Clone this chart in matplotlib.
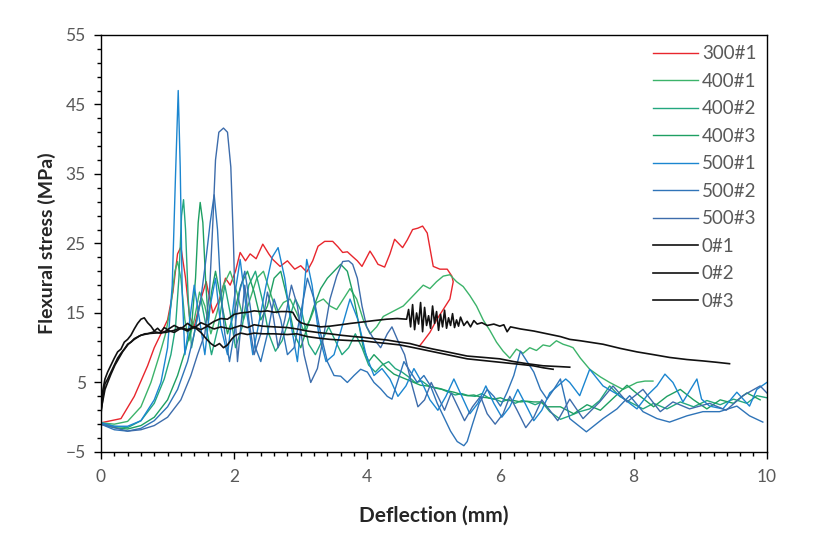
import matplotlib

matplotlib.use("Agg")

import matplotlib.pyplot as plt
from matplotlib.ticker import MultipleLocator

# (deflection mm, flexural stress MPa)
s300_1 = [
    (0, -0.8), (0.3, -0.2), (0.5, 3), (0.7, 7.4), (0.8, 10), (0.9, 12), (1.0, 14), (1.08, 18),
    (1.15, 23.5), (1.2, 24.5), (1.27, 20), (1.33, 14.5), (1.4, 13), (1.5, 17), (1.58, 19.5),
    (1.68, 15), (1.78, 17), (1.87, 20), (1.94, 19), (2.02, 21), (2.09, 23.7), (2.17, 22.5),
    (2.24, 23.5), (2.33, 22.8), (2.43, 24.9), (2.52, 23.5), (2.58, 22.7), (2.69, 21.7),
    (2.8, 22.5), (2.91, 21.3), (3.0, 21.8), (3.09, 20.9), (3.18, 22.5), (3.26, 24.6),
    (3.36, 25.3), (3.48, 25.3), (3.56, 24.5), (3.63, 23.7), (3.7, 23.8), (3.78, 23.1),
    (3.85, 22.5), (3.92, 21.7), (4.04, 23.9), (4.1, 23), (4.16, 22), (4.26, 21.6), (4.34, 23.5),
    (4.41, 25.6), (4.53, 24.4), (4.6, 25.5), (4.68, 27), (4.76, 27.2), (4.83, 27.5), (4.9, 26.5),
    (4.99, 21.7), (5.09, 21.3), (5.2, 21.3), (5.27, 20.3), (5.29, 19.5), (5.24, 17), (5.14, 15.5),
    (5.04, 14), (4.94, 12.2), (4.83, 10.8), (4.78, 10.2),
]
s400_1 = [
    (0, -0.8), (0.2, -1), (0.4, -0.6), (0.6, 1.5), (0.75, 5), (0.88, 9), (0.97, 12), (1.05, 16),
    (1.11, 21), (1.15, 22.4), (1.2, 20), (1.26, 14), (1.32, 11), (1.4, 14), (1.48, 18), (1.56, 16),
    (1.65, 12), (1.74, 15), (1.84, 19), (1.94, 21), (2.04, 18), (2.14, 14), (2.24, 17), (2.34, 20),
    (2.44, 21), (2.54, 18), (2.64, 15), (2.74, 16.5), (2.84, 17), (2.94, 15), (3.04, 12.5),
    (3.14, 14), (3.24, 16.5), (3.34, 17), (3.44, 16), (3.54, 15.5), (3.64, 17), (3.74, 18.5),
    (3.84, 17), (3.94, 14), (4.04, 12), (4.14, 13), (4.24, 14.5), (4.34, 15), (4.44, 15.5),
    (4.54, 16), (4.64, 17), (4.74, 18), (4.84, 19), (4.94, 18.5), (5.04, 19.5), (5.14, 20.3),
    (5.24, 20.5), (5.34, 19.5), (5.44, 18.8), (5.54, 17.5), (5.64, 16), (5.74, 14), (5.84, 12.5),
    (5.94, 10.8), (6.04, 9.5), (6.14, 8.5), (6.24, 9.8), (6.34, 9.2), (6.44, 10), (6.54, 9.6),
    (6.64, 10.4), (6.74, 10.2), (6.84, 11), (6.94, 10.5), (7.04, 10.2), (7.09, 10), (7.2, 8.5),
    (7.34, 6.9), (7.5, 5.8), (7.64, 5), (7.84, 4), (8.05, 5), (8.17, 5.2), (8.29, 5.2),
]
s400_2 = [
    (0, -0.8), (0.2, -1.3), (0.4, -1.5), (0.6, -0.5), (0.8, 2), (0.95, 5.5), (1.05, 9), (1.12, 13),
    (1.17, 20), (1.21, 29), (1.24, 31.3), (1.27, 27), (1.31, 17), (1.36, 10), (1.42, 13), (1.5, 17),
    (1.58, 13), (1.66, 9), (1.76, 13), (1.86, 19), (1.94, 15), (2.02, 10), (2.12, 13), (2.22, 19),
    (2.32, 21), (2.42, 17), (2.52, 12), (2.62, 9.5), (2.72, 11), (2.82, 14), (2.92, 17), (3.02, 15),
    (3.12, 10.5), (3.22, 9), (3.32, 11), (3.42, 13), (3.52, 11), (3.62, 9), (3.72, 10), (3.82, 12),
    (3.92, 10), (4.02, 7.5), (4.12, 6.5), (4.22, 7.5), (4.32, 8), (4.42, 7), (4.52, 6.5), (4.62, 5.8),
    (4.72, 5), (4.82, 5.2), (4.92, 4.5), (5.02, 4.2), (5.12, 4), (5.22, 3.6), (5.32, 3.2), (5.42, 3.4),
    (5.52, 3.1), (5.62, 3), (5.72, 3.4), (5.82, 2.8), (5.92, 2.6), (6.02, 2.2), (6.12, 2.6), (6.22, 2),
    (6.32, 2.4), (6.42, 2.2), (6.52, 1.8), (6.62, 2.2), (6.74, 0.8), (6.9, -0.3), (7.04, 0.2),
    (7.19, 0.8), (7.34, 1.2), (7.49, 2.4), (7.64, 4.5), (7.79, 3), (7.94, 2.2), (8.14, 1.2), (8.3, 2),
    (8.5, 1.2), (8.7, 2.2), (8.9, 1.5), (9.1, 2.4), (9.3, 1.8), (9.5, 2.6), (9.7, 2), (9.85, 3.1),
    (10, 2.8),
]
s400_3 = [
    (0, -1), (0.2, -1.5), (0.4, -1.7), (0.6, -1.2), (0.8, 0), (1.0, 2.5), (1.15, 6), (1.28, 10),
    (1.36, 13), (1.42, 20), (1.46, 28), (1.49, 30.9), (1.53, 28), (1.57, 20), (1.61, 14), (1.66, 18),
    (1.72, 21), (1.8, 17), (1.9, 12), (2.0, 15), (2.1, 19), (2.2, 21), (2.3, 18), (2.4, 14), (2.5, 16),
    (2.6, 20), (2.7, 21), (2.8, 17), (2.9, 12), (3.0, 10), (3.1, 13), (3.2, 16), (3.3, 18.5), (3.4, 20),
    (3.5, 21), (3.6, 22), (3.7, 21), (3.78, 18), (3.86, 14), (3.94, 10), (4.02, 8), (4.1, 9), (4.2, 8),
    (4.3, 7), (4.4, 6.2), (4.5, 5.8), (4.6, 5.4), (4.7, 5), (4.8, 4.6), (4.9, 4.5), (5.0, 4.3),
    (5.1, 4.1), (5.2, 3.8), (5.3, 3.6), (5.4, 3.3), (5.5, 3.1), (5.6, 3.2), (5.7, 2.9), (5.8, 2.8),
    (5.9, 2.6), (6.0, 2.8), (6.1, 2.4), (6.2, 2.4), (6.3, 2.2), (6.4, 2.3), (6.5, 2.2), (6.6, 2.2),
    (6.7, 1.5), (6.9, 1.5), (7.1, 0.5), (7.3, 1.8), (7.5, 1), (7.7, 2.8), (7.9, 4.6), (8.1, 3),
    (8.3, 1.5), (8.5, 3), (8.7, 4), (8.9, 2.5), (9.1, 1.2), (9.3, 2.5), (9.5, 2), (9.7, 3.5), (9.9, 2.5),
]
s500_1 = [
    (0, -0.8), (0.2, -1.3), (0.4, -1.3), (0.6, -0.5), (0.8, 2.5), (0.9, 5), (1.0, 10), (1.07, 19),
    (1.12, 35), (1.16, 47), (1.19, 36), (1.22, 18), (1.26, 9), (1.32, 13), (1.4, 19), (1.48, 14),
    (1.56, 9), (1.64, 16), (1.72, 20), (1.8, 13), (1.9, 9), (2.0, 17), (2.09, 22.7), (2.19, 15),
    (2.28, 9), (2.38, 14), (2.48, 19), (2.57, 23), (2.66, 24.4), (2.76, 20), (2.86, 13), (2.95, 8),
    (3.02, 15), (3.09, 22.7), (3.17, 19), (3.27, 12), (3.38, 8), (3.5, 9), (3.62, 13), (3.74, 17),
    (3.86, 14), (3.98, 9), (4.1, 6), (4.22, 7), (4.34, 5.5), (4.46, 3), (4.58, 4.5), (4.7, 7),
    (4.82, 5), (4.94, 2.5), (5.06, 1), (5.18, 3), (5.3, 5.5), (5.42, 3), (5.54, 0.5), (5.66, 2),
    (5.78, 4.5), (5.9, 2), (6.02, 0), (6.14, 1.5), (6.26, 4), (6.38, 1.8), (6.5, -0.5), (6.62, 1),
    (6.74, 3.5), (6.86, 4.5), (6.98, 5.5), (7.04, 5), (7.19, 3.1), (7.34, 6.9), (7.54, 4.5),
    (7.79, 3.1), (8.05, 1.2), (8.2, 3.1), (8.35, 4.5), (8.47, 6.2), (8.59, 5), (8.74, 2.2),
    (8.95, 5.5), (9.02, 2.6), (9.14, 1.6), (9.34, 1.2), (9.55, 3.6), (9.74, 1.6), (9.85, 4), (10.0, 5),
]
s500_2 = [
    (0, -1), (0.2, -1.8), (0.4, -2), (0.6, -1.6), (0.8, -0.5), (1.0, 1.5), (1.15, 4), (1.3, 8),
    (1.4, 12), (1.5, 17), (1.58, 23), (1.64, 28), (1.7, 32), (1.75, 27), (1.8, 18), (1.86, 12),
    (1.93, 8), (2.0, 12), (2.08, 18), (2.16, 21), (2.24, 16), (2.32, 10), (2.4, 8), (2.5, 12),
    (2.6, 17), (2.7, 14), (2.8, 9), (2.9, 10), (3.0, 15), (3.1, 20), (3.2, 17), (3.3, 12), (3.4, 8),
    (3.5, 6), (3.6, 5.9), (3.7, 5), (3.8, 6), (3.9, 6.9), (4.0, 6.5), (4.1, 5), (4.2, 4.1), (4.3, 3),
    (4.37, 2.6), (4.45, 5), (4.55, 8), (4.65, 6.5), (4.75, 5), (4.85, 6), (4.95, 4.5), (5.05, 2),
    (5.15, 0), (5.25, -2), (5.35, -3.5), (5.45, -4.1), (5.5, -3.5), (5.58, -1), (5.68, 2), (5.8, 4),
    (5.9, 3), (6.0, 1.6), (6.1, 3.6), (6.2, 6), (6.3, 9.5), (6.4, 8), (6.5, 6.5), (6.6, 4),
    (6.7, 2.6), (6.8, 4), (6.9, 5.5), (7.04, -0.2), (7.29, -2.1), (7.54, -0.2), (7.75, 1.2),
    (7.94, 3.1), (8.14, 0.8), (8.35, -0.2), (8.54, -0.7), (8.8, 0.2), (9.04, 0.8), (9.29, 0.8),
    (9.55, 1.6), (9.74, 0.2), (9.94, -0.7),
]
s500_3 = [
    (0, -1), (0.2, -1.5), (0.4, -2), (0.6, -1.8), (0.8, -1.2), (1.0, 0), (1.2, 2.5), (1.35, 6),
    (1.45, 9), (1.56, 12), (1.63, 18), (1.68, 28), (1.72, 37), (1.77, 41), (1.84, 41.6), (1.9, 41),
    (1.95, 36), (1.99, 25), (2.02, 14), (2.05, 8), (2.09, 12), (2.16, 19), (2.22, 14), (2.3, 9),
    (2.4, 12), (2.5, 18), (2.58, 15), (2.66, 10), (2.76, 14), (2.86, 19), (2.95, 16), (3.05, 9),
    (3.15, 5), (3.25, 7), (3.35, 12), (3.44, 17), (3.54, 20.3), (3.63, 22.4), (3.72, 22.5),
    (3.78, 22), (3.85, 20), (3.92, 16), (3.99, 13), (4.08, 11.5), (4.2, 10), (4.3, 12), (4.37, 13),
    (4.46, 11), (4.56, 9), (4.66, 5), (4.76, 1.5), (4.86, 2.5), (4.96, 5), (5.06, 3), (5.16, 1),
    (5.26, 3.5), (5.36, 1.5), (5.46, -0.5), (5.58, 1.5), (5.7, 3), (5.8, 0.5), (5.92, -1),
    (6.04, 0.5), (6.14, 3), (6.25, 1), (6.38, -1.5), (6.5, 0), (6.62, 2.5), (6.74, 1), (6.86, -0.5),
    (7.04, 2.6), (7.24, -0.2), (7.49, 2.2), (7.69, 4.5), (7.9, 2.2), (8.14, 4), (8.4, 0.8),
    (8.59, 2.2), (8.84, 1.2), (9.14, 2), (9.39, 1), (9.64, 3.1), (9.9, 4.5), (10, 3.5),
]
s0_1 = [
    (0, 1.5), (0.03, 4), (0.06, 5.5), (0.1, 6.5), (0.15, 7.5), (0.2, 8.5), (0.25, 9.4), (0.3, 9.8),
    (0.35, 10.8), (0.4, 11.2), (0.45, 11.8), (0.5, 12.7), (0.55, 13.5), (0.6, 14.1), (0.65, 14.3),
    (0.7, 13.6), (0.75, 13.1), (0.8, 12.4), (0.85, 12.8), (0.9, 12.3), (0.95, 12.9), (1.0, 12.6),
    (1.1, 13.2), (1.2, 12.7), (1.3, 13.5), (1.4, 12.8), (1.5, 13.6), (1.6, 13.2), (1.7, 13.8),
    (1.8, 14.2), (1.9, 14.1), (2.0, 14.8), (2.1, 15.0), (2.2, 15.1), (2.3, 15.3), (2.4, 15.2),
    (2.5, 15.3), (2.6, 15.1), (2.7, 15.2), (2.8, 15.2), (2.88, 15.1), (2.94, 14.1), (3.0, 13.6),
    (3.1, 13.3), (3.2, 13.2), (3.3, 13.0), (3.44, 13.1), (3.6, 13.3), (3.75, 13.5), (3.93, 13.7),
    (4.1, 13.9), (4.29, 14.1), (4.45, 14.2), (4.59, 14.1), (4.62, 15.5), (4.65, 13), (4.68, 16.2),
    (4.71, 12.6), (4.74, 15), (4.77, 13.4), (4.8, 16.5), (4.83, 12.3), (4.86, 15.8), (4.89, 13.2),
    (4.92, 14.6), (4.95, 12.8), (4.98, 16), (5.01, 13.5), (5.04, 15.2), (5.07, 12.5), (5.1, 14.8),
    (5.13, 13), (5.16, 15.4), (5.19, 12.8), (5.22, 14.3), (5.25, 13.2), (5.28, 14.9), (5.31, 12.9),
    (5.34, 14), (5.37, 13.1), (5.4, 14.4), (5.45, 13.2), (5.5, 13.8), (5.55, 13), (5.6, 13.9),
    (5.65, 13.4), (5.72, 13.6), (5.8, 13.2), (5.9, 13.4), (5.99, 13.1), (6.05, 13.3), (6.1, 12.3),
    (6.15, 13.0), (6.3, 12.7), (6.5, 12.4), (6.7, 12.0), (6.9, 11.6), (7.04, 11.2), (7.2, 11.0),
    (7.54, 10.5), (7.8, 9.9), (8.05, 9.4), (8.3, 9.0), (8.54, 8.6), (8.8, 8.3), (9.04, 8.1),
    (9.25, 7.9), (9.44, 7.7),
]
s0_2 = [
    (0, 0.5), (0.03, 3), (0.06, 4.8), (0.1, 5.5), (0.15, 6.5), (0.2, 7.5), (0.25, 8.5), (0.3, 9.2),
    (0.35, 9.8), (0.4, 10.5), (0.45, 10.8), (0.5, 11.3), (0.6, 11.8), (0.7, 12.0), (0.8, 12.3),
    (0.9, 12.1), (1.0, 12.5), (1.1, 12.2), (1.2, 12.8), (1.3, 12.4), (1.4, 13.0), (1.5, 12.6),
    (1.6, 13.1), (1.7, 12.7), (1.8, 13.0), (1.94, 12.7), (2.1, 13.2), (2.2, 12.9), (2.3, 13.3),
    (2.43, 13.1), (2.6, 13.0), (2.8, 12.9), (2.94, 12.7), (3.1, 12.4), (3.25, 12.2), (3.44, 12.0),
    (3.6, 11.8), (3.8, 11.6), (3.93, 11.5), (4.1, 11.3), (4.3, 11.1), (4.49, 10.8), (4.64, 10.6),
    (4.8, 10.2), (4.99, 9.8), (5.2, 9.4), (5.5, 8.8), (5.75, 8.6), (5.99, 8.4), (6.2, 8.0),
    (6.4, 7.7), (6.64, 7.4), (6.85, 7.3), (7.04, 7.2),
]
s0_3 = [
    (0, 1), (0.03, 2.5), (0.06, 4), (0.1, 5), (0.15, 6.2), (0.21, 7.5), (0.27, 8.5), (0.33, 9.5),
    (0.41, 10.5), (0.5, 11.2), (0.58, 11.7), (0.66, 12), (0.8, 12.1), (0.97, 12.2), (1.1, 12.5),
    (1.2, 12.9), (1.3, 12.6), (1.4, 13.0), (1.5, 12.2), (1.58, 11.3), (1.65, 10.6), (1.71, 10.2),
    (1.78, 10.6), (1.84, 10.0), (1.9, 10.4), (1.96, 11.2), (2.02, 11.8), (2.1, 12.1), (2.2, 11.9),
    (2.3, 12.1), (2.43, 12.0), (2.6, 12.0), (2.8, 11.9), (2.94, 12.0), (3.1, 11.6), (3.25, 11.4),
    (3.44, 11.2), (3.6, 11.1), (3.8, 11.0), (3.93, 11.0), (4.1, 10.8), (4.3, 10.6), (4.49, 10.4),
    (4.7, 10.0), (5.0, 9.4), (5.25, 8.9), (5.5, 8.4), (5.8, 8.1), (6.1, 7.8), (6.3, 7.6),
    (6.49, 7.4), (6.65, 7.1), (6.79, 6.9),
]

labels = ["300#1", "400#1", "400#2", "400#3", "500#1", "500#2", "500#3", "0#1", "0#2", "0#3"]
series = [s300_1, s400_1, s400_2, s400_3, s500_1, s500_2, s500_3, s0_1, s0_2, s0_3]
colors = ["#e8262d", "#3cb36a", "#23a77f", "#1e9f62", "#1b86d0", "#2f74b8", "#3d6cab",
          "#111111", "#111111", "#111111"]

GREY = "#595959"
plt.rcParams["font.family"] = ["Lato", "DejaVu Sans"]

fig = plt.figure(figsize=(8.21, 5.34), dpi=100)
ax = fig.add_axes([0.123, 0.1536, 0.811, 0.781])

for label, pts, color in zip(labels, series, colors):
    xs = [p[0] for p in pts]
    ys = [p[1] for p in pts]
    lw = 1.2 if color == "#111111" else 1.0
    ax.plot(xs, ys, color=color, linewidth=lw, label=label)

ax.set_xlim(0, 10)
ax.set_ylim(-5, 55)
ax.xaxis.set_major_locator(MultipleLocator(2))
ax.xaxis.set_minor_locator(MultipleLocator(0.2))
ax.set_yticks([-5, 5, 15, 25, 35, 45, 55])
ax.yaxis.set_minor_locator(MultipleLocator(2, offset=1))
ax.tick_params(which="major", direction="out", length=5, width=1, color="black",
               labelsize=12.5, labelcolor=GREY)
ax.tick_params(axis="x", which="major", pad=7)
ax.tick_params(axis="y", which="major", pad=6)
ax.tick_params(which="minor", direction="out", length=3, width=1, color="black")
for sp in ax.spines.values():
    sp.set_color("black")
    sp.set_linewidth(1.0)

ax.set_xlabel("Deflection (mm)", fontsize=15, fontweight="bold", color="#262626", labelpad=15)
ax.set_ylabel("Flexural stress (MPa)", fontsize=14, fontweight="bold", color="#262626", labelpad=7)

leg = ax.legend(loc="upper right", bbox_to_anchor=(1.0, 1.0), frameon=False, fontsize=13.5,
                handlelength=2.4, handletextpad=0.2, labelspacing=0.56, borderaxespad=0.1,
                borderpad=0.45)
for t in leg.get_texts():
    t.set_color(GREY)

fig.savefig("out.png", dpi=100)
